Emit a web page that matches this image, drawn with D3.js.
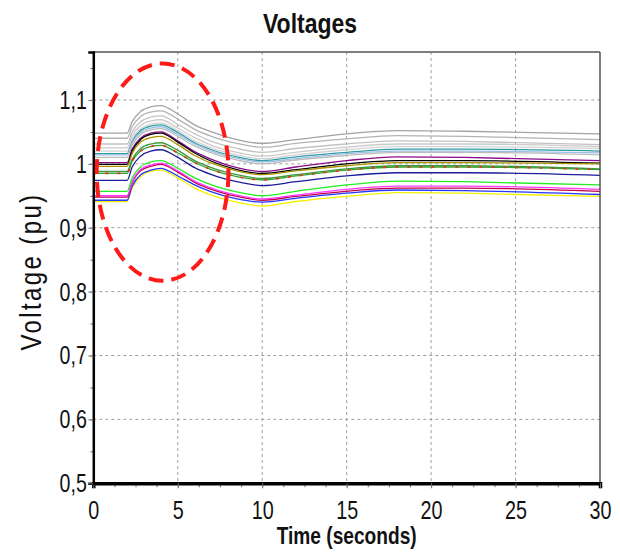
<!DOCTYPE html>
<html>
<head>
<meta charset="utf-8">
<script src="https://cdn.jsdelivr.net/npm/d3@7"></script>
<style>
body { margin: 0; background: #fff; }
svg text { font-family: "Liberation Sans", Arial, sans-serif; fill: #111; }
</style>
</head>
<body>
<svg id="chart" width="620" height="554"></svg>
<script>
// sample times (s) shared by every bus trace
const times = [0, 2, 2.3, 2.8, 3.4, 4, 5, 6, 7, 8.5, 10, 12, 15, 18, 22, 30];

// bus voltages (pu)
const vGray1  = [1.048, 1.048, 1.066, 1.082, 1.089, 1.091, 1.078, 1.061, 1.050, 1.038, 1.032, 1.038, 1.047, 1.052, 1.051, 1.047];
const vGray2  = [1.040, 1.040, 1.058, 1.074, 1.081, 1.083, 1.070, 1.054, 1.043, 1.032, 1.026, 1.032, 1.039, 1.044, 1.043, 1.038];
const vGray3  = [1.031, 1.031, 1.050, 1.066, 1.073, 1.075, 1.062, 1.047, 1.035, 1.024, 1.018, 1.024, 1.031, 1.036, 1.035, 1.030];
const vGray4  = [1.025, 1.025, 1.044, 1.060, 1.067, 1.069, 1.056, 1.041, 1.029, 1.018, 1.012, 1.018, 1.026, 1.031, 1.031, 1.027];
const vGray5  = [1.020, 1.020, 1.039, 1.055, 1.062, 1.064, 1.052, 1.036, 1.025, 1.014, 1.008, 1.014, 1.022, 1.027, 1.027, 1.024];
const vTeal   = [1.016, 1.016, 1.035, 1.052, 1.059, 1.061, 1.049, 1.033, 1.022, 1.011, 1.005, 1.011, 1.018, 1.023, 1.023, 1.020];
const vSky    = [1.014, 1.014, 1.033, 1.049, 1.056, 1.058, 1.046, 1.031, 1.020, 1.009, 1.003, 1.008, 1.016, 1.020, 1.020, 1.017];
const vGray6  = [1.010, 1.010, 1.029, 1.046, 1.053, 1.055, 1.043, 1.028, 1.017, 1.006, 1.000, 1.006, 1.013, 1.018, 1.018, 1.014];
const vPurple = [1.002, 1.002, 1.023, 1.040, 1.048, 1.050, 1.036, 1.019, 1.007, 0.994, 0.988, 0.995, 1.005, 1.011, 1.010, 1.005];
const vBlack  = [0.999, 0.999, 1.020, 1.038, 1.046, 1.048, 1.034, 1.017, 1.004, 0.991, 0.985, 0.991, 1.000, 1.005, 1.005, 1.001];
const vOlive  = [0.996, 0.996, 1.016, 1.034, 1.041, 1.043, 1.030, 1.013, 1.001, 0.989, 0.983, 0.989, 0.997, 1.002, 1.002, 1.000];
const vGreen  = [0.988, 0.988, 1.007, 1.024, 1.031, 1.033, 1.021, 1.005, 0.994, 0.983, 0.977, 0.983, 0.992, 0.997, 0.997, 0.992];
const vRedDot = [0.985, 0.985, 1.004, 1.020, 1.027, 1.029, 1.017, 1.002, 0.991, 0.980, 0.975, 0.981, 0.990, 0.995, 0.995, 0.991];
const vNavy   = [0.974, 0.974, 0.995, 1.012, 1.020, 1.022, 1.010, 0.994, 0.983, 0.972, 0.966, 0.972, 0.981, 0.986, 0.986, 0.982];
const vLime   = [0.957, 0.957, 0.978, 0.995, 1.003, 1.005, 0.993, 0.978, 0.967, 0.956, 0.950, 0.957, 0.967, 0.973, 0.972, 0.967];
const vPink   = [0.950, 0.950, 0.972, 0.991, 0.998, 1.001, 0.989, 0.973, 0.962, 0.951, 0.945, 0.951, 0.960, 0.965, 0.965, 0.960];
const vCrimson= [0.948, 0.948, 0.970, 0.989, 0.996, 0.999, 0.987, 0.971, 0.960, 0.949, 0.943, 0.949, 0.957, 0.962, 0.962, 0.957];
const vBlue   = [0.943, 0.943, 0.965, 0.983, 0.990, 0.993, 0.981, 0.967, 0.956, 0.945, 0.940, 0.946, 0.954, 0.959, 0.958, 0.952];
const vYellow = [0.941, 0.941, 0.962, 0.980, 0.988, 0.990, 0.978, 0.962, 0.951, 0.940, 0.934, 0.941, 0.949, 0.955, 0.954, 0.949];

const seriesValues = [vGray1, vGray2, vGray3, vGray4, vGray5, vTeal, vSky, vGray6, vPurple, vBlack,
                      vOlive, vGreen, vRedDot, vNavy, vYellow, vBlue, vCrimson, vPink, vLime];
const seriesColors = ["#a3a3a3", "#b3b3b3", "#c2c2c2", "#cbcbcb", "#d3d3d3", "#2f9aa3", "#9cc0e4", "#bcbcbc", "#8a0a8a", "#000000",
                      "#a89400", "#3b9b3b", "#35a035", "#1c1c9c", "#f2f000", "#2438ff", "#c4004c", "#ff38ff", "#22ee22"];

const xTicks = [0, 5, 10, 15, 20, 25, 30];
const yTicks = [0.5, 0.6, 0.7, 0.8, 0.9, 1.0, 1.1];
const yTickLabels = ["0,5", "0,6", "0,7", "0,8", "0,9", "1", "1,1"];

// circled region of the overshoot (centre t, centre v, half width s, half height pu)
const marker = { t: 4.1, v: 0.987, rt: 3.9, rv: 0.170 };

const svg = d3.select("#chart");
const plotL = 93.3, plotR = 600, plotT = 52, plotB = 483.3;

const x = d3.scaleLinear().domain([0, 30]).range([plotL, plotR]);
const y = d3.scaleLinear().domain([0.5, 1.175]).range([plotB, plotT]);

// no narrow font installed, so squeeze the text sideways
function narrow(sel, k) {
  sel.each(function() {
    const w = this.getComputedTextLength();
    d3.select(this).attr("textLength", w * k).attr("lengthAdjust", "spacingAndGlyphs");
  });
}

// grid
svg.append("g").selectAll("line").data(xTicks.slice(1, -1)).join("line")
  .attr("x1", d => x(d)).attr("x2", d => x(d)).attr("y1", plotT).attr("y2", plotB)
  .attr("stroke", "#a0a0a0").attr("stroke-dasharray", "3,3");
svg.append("g").selectAll("line").data(yTicks.slice(1)).join("line")
  .attr("x1", plotL).attr("x2", plotR).attr("y1", d => y(d)).attr("y2", d => y(d))
  .attr("stroke", "#a0a0a0").attr("stroke-dasharray", "3,3");

// traces
const line = d3.line().x((d, i) => x(times[i])).y(d => y(d)).curve(d3.curveMonotoneX);
svg.append("g").attr("fill", "none").selectAll("path").data(seriesValues).join("path")
  .attr("d", line)
  .attr("stroke", (d, i) => seriesColors[i])
  .attr("stroke-width", 1.3);
// red dashes sitting on the green trace
svg.append("path").attr("d", line(vRedDot)).attr("fill", "none")
  .attr("stroke", "#e8301c").attr("stroke-width", 1.6).attr("stroke-dasharray", "3,9");

// frame
svg.append("line").attr("x1", plotL).attr("x2", plotR).attr("y1", plotT).attr("y2", plotT)
  .attr("stroke", "#555").attr("stroke-width", 1.5);
svg.append("line").attr("x1", plotR).attr("x2", plotR).attr("y1", plotT).attr("y2", plotB)
  .attr("stroke", "#555").attr("stroke-width", 1.5);

// axes
const xMinor = d3.range(0, 30.01, 1.25);
svg.append("g").attr("transform", `translate(0,${plotB})`)
  .call(d3.axisBottom(x).tickValues(xMinor).tickSize(4).tickFormat(""))
  .call(g => g.select(".domain").remove())
  .call(g => g.selectAll("line").attr("stroke", "#777"));
const xAxis = svg.append("g").attr("transform", `translate(0,${plotB})`)
  .call(d3.axisBottom(x).tickValues(xTicks).tickSize(5).tickPadding(12).tickFormat(d3.format("d")));
xAxis.select(".domain").attr("stroke", "#000").attr("stroke-width", 3.5);
xAxis.selectAll(".tick line").attr("stroke", "#777");
xAxis.selectAll("text").attr("font-size", 26).attr("font-family", null).call(narrow, 0.76);

const yMinor = d3.range(0.5, 1.176, 0.05);
svg.append("g").attr("transform", `translate(${plotL},0)`)
  .call(d3.axisLeft(y).tickValues(yMinor).tickSize(3).tickFormat(""))
  .call(g => g.select(".domain").remove())
  .call(g => g.selectAll("line").attr("stroke", "#777"));
const yAxis = svg.append("g").attr("transform", `translate(${plotL},0)`)
  .call(d3.axisLeft(y).tickValues(yTicks).tickSize(5).tickPadding(1.5).tickFormat((d, i) => yTickLabels[i]));
yAxis.select(".domain").attr("stroke", "#000").attr("stroke-width", 2.5);
yAxis.selectAll("text").attr("font-size", 26.5).attr("font-family", null).call(narrow, 0.74);
yAxis.selectAll(".tick line").attr("stroke", "#777");

// circled overshoot
svg.append("ellipse")
  .attr("cx", x(marker.t)).attr("cy", y(marker.v))
  .attr("rx", x(marker.rt) - x(0)).attr("ry", y(0.5) - y(0.5 + marker.rv))
  .attr("fill", "none").attr("stroke", "#ff1a1a").attr("stroke-width", 4)
  .attr("stroke-dasharray", "15,8");

// titles
svg.append("text").attr("x", 310).attr("y", 33).attr("text-anchor", "middle")
  .attr("font-size", 28).attr("font-weight", "bold").text("Voltages")
  .attr("textLength", 94).attr("lengthAdjust", "spacingAndGlyphs");
svg.append("text").attr("x", 346.7).attr("y", 544).attr("text-anchor", "middle")
  .attr("font-size", 24).attr("font-weight", "bold").text("Time (seconds)")
  .attr("textLength", 140).attr("lengthAdjust", "spacingAndGlyphs");
svg.append("text").attr("transform", "translate(41,271.5) rotate(-90)").attr("text-anchor", "middle")
  .attr("font-size", 30).attr("letter-spacing", 3).text("Voltage (pu)")
  .attr("textLength", 158).attr("lengthAdjust", "spacingAndGlyphs");
</script>
</body>
</html>
